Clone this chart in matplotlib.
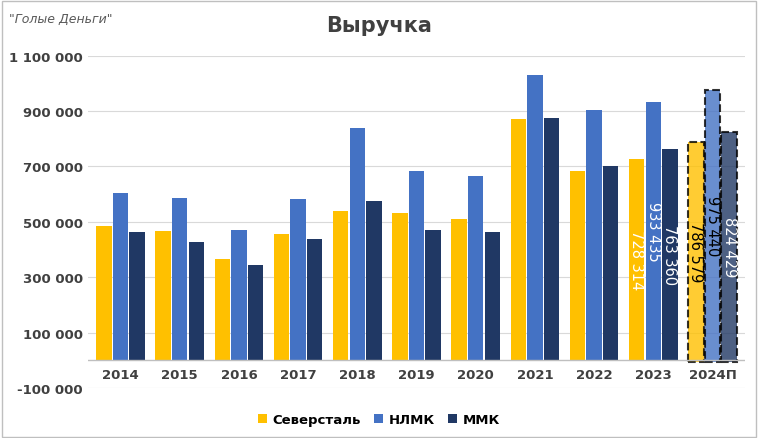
import numpy as np
import matplotlib.pyplot as plt
from matplotlib.ticker import FuncFormatter

years = ['2014', '2015', '2016', '2017', '2018', '2019', '2020', '2021', '2022', '2023', '2024П']
severstal = [485000, 468000, 365000, 455000, 540000, 530000, 510000, 870000, 683000, 728314, 786579]
nlmk = [603000, 587000, 470000, 583000, 840000, 685000, 665000, 1030000, 903000, 933435, 975440]
mmk = [462000, 427000, 345000, 437000, 575000, 470000, 462000, 875000, 702000, 763360, 824429]

colors = ['#FFC000', '#4472C4', '#203864']
names = ['Северсталь', 'НЛМК', 'ММК']
label_colors = [['white', 'white', 'white'], ['black', 'black', 'white']]

def fmt(v):
    return f'{int(v):,}'.replace(',', ' ')

fig = plt.figure(figsize=(7.58, 4.39), dpi=100)
fig.patch.set_facecolor('white')
ax = fig.add_axes([0.116, 0.114, 0.867, 0.757])

x = np.arange(len(years))
w = 0.26
for k, (vals, c, n) in enumerate(zip([severstal, nlmk, mmk], colors, names)):
    pos = x + (k - 1) * w * 1.08
    ax.bar(pos[:-1], vals[:-1], w, color=c, label=n)
    ax.bar(pos[-1], vals[-1] + 8000, w, bottom=-8000, color=c, alpha=0.8,
           edgecolor='black', linestyle='--', linewidth=1.5)
    for j in (9, 10):
        ax.text(pos[j], vals[j] / 2, fmt(vals[j]), rotation=270, ha='center', va='center',
                fontsize=10.5, color=label_colors[j - 9][k])

for xi, y in zip(x, years):
    ax.text(xi, -50000, y, ha='center', va='center', fontsize=9.5, fontweight='bold', color='#404040')

ax.set_ylim(-100000, 1100000)
ax.set_xlim(-0.55, len(years) - 0.45)
ax.set_yticks(np.arange(-100000, 1100001, 200000))
ax.yaxis.set_major_formatter(FuncFormatter(lambda v, p: fmt(v)))
ax.tick_params(axis='y', length=0, labelsize=9.5, labelcolor='#404040')
for t in ax.get_yticklabels():
    t.set_fontweight('bold')
ax.set_xticks([])
ax.grid(axis='y', color='#D9D9D9', linewidth=0.8)
ax.set_axisbelow(True)
ax.axhline(0, color='#BFBFBF', linewidth=1)
for s in ax.spines.values():
    s.set_visible(False)

fig.text(0.5, 0.94, 'Выручка', ha='center', va='center', fontsize=15, fontweight='bold', color='#404040')
fig.text(0.012, 0.955, '"Голые Деньги"', ha='left', va='center', fontsize=9, style='italic', color='#595959')
fig.legend(loc='lower center', bbox_to_anchor=(0.5, 0.0), ncol=3, frameon=False,
           handlelength=0.7, handleheight=0.7, columnspacing=1.0, handletextpad=0.4,
           prop={'weight': 'bold', 'size': 9.5})
fig.add_artist(plt.Rectangle((0.002, 0.003), 0.995, 0.993, transform=fig.transFigure,
                             fill=False, edgecolor='#BFBFBF', linewidth=1))
fig.savefig('out.png', dpi=100)
